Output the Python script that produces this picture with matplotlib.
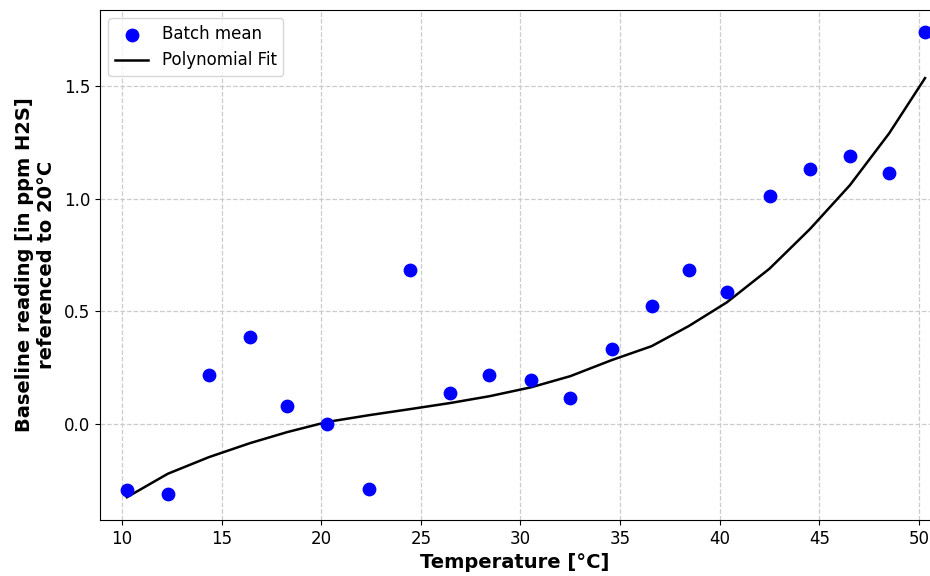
import numpy as np
import matplotlib
matplotlib.use("Agg")
import matplotlib.pyplot as plt

# batch means
temps = [10.25, 12.3, 14.37, 16.43, 18.3, 20.3, 22.4, 24.47, 26.48, 28.44, 30.55,
         32.5, 34.57, 36.58, 38.44, 40.35, 42.5, 44.52, 46.53, 48.5, 50.3]
batch_mean = [-0.29, -0.31, 0.217, 0.386, 0.08, 0.0, -0.288, 0.683, 0.138, 0.217, 0.195,
              0.115, 0.333, 0.524, 0.683, 0.586, 1.012, 1.13, 1.19, 1.114, 1.74]
# polynomial fit evaluated at the same temperatures
poly_fit = [-0.324, -0.22, -0.146, -0.084, -0.035, 0.01, 0.04, 0.067, 0.094, 0.124, 0.164,
            0.213, 0.284, 0.346, 0.435, 0.54, 0.69, 0.865, 1.06, 1.29, 1.535]

fig = plt.figure(figsize=(9.3, 5.76), dpi=100)
ax = fig.add_axes([0.1075, 0.0972, 0.8925, 0.8854])

ax.scatter(temps, batch_mean, s=80, color='blue', label='Batch mean', zorder=3, clip_on=False)
ax.plot(temps, poly_fit, color='black', lw=1.8, label='Polynomial Fit', zorder=2)

ax.set_xlim(8.9, 50.55)
ax.set_ylim(-0.425, 1.837)
ax.set_xticks([10, 15, 20, 25, 30, 35, 40, 45, 50])
ax.set_yticks([0.0, 0.5, 1.0, 1.5])
ax.grid(True, linestyle='--', color='#cccccc', lw=0.9)
ax.spines['right'].set_visible(False)

ax.tick_params(axis='both', labelsize=12)

ax.set_xlabel('Temperature [°C]', fontsize=14, fontweight='bold', labelpad=4)
ax.set_ylabel('Baseline reading [in ppm H2S]\nreferenced to 20°C', fontsize=14,
              fontweight='bold', labelpad=6)

ax.legend(loc='upper left', fontsize=12)

fig.savefig('out.png', dpi=100)
